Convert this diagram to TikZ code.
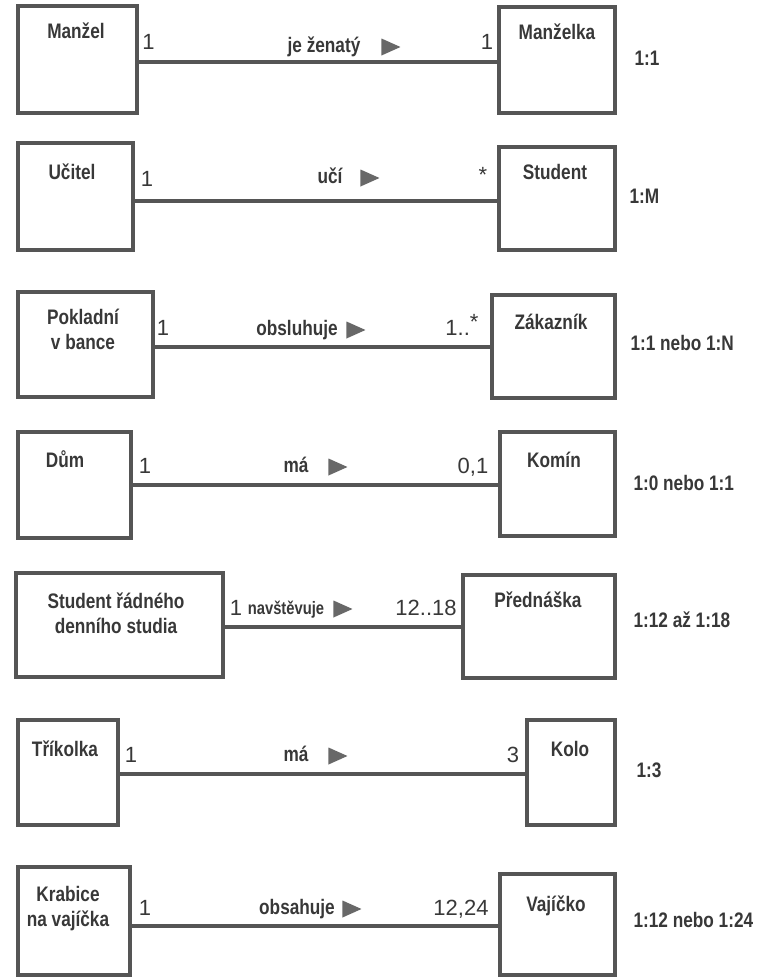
\documentclass[tikz,border=0pt]{standalone}
\usepackage{fontspec}
\setmainfont{Liberation Sans}
\newfontfamily\narrowsf[FakeStretch=0.82]{Liberation Sans}
\usetikzlibrary{positioning,shapes.geometric}

\definecolor{ink}{HTML}{383838}
\definecolor{rim}{HTML}{555555}
\definecolor{flag}{HTML}{686868}

\tikzset{
  klass/.style={draw=rim, line width=3.6pt, inner sep=0pt},
  kname/.style={font=\narrowsf\bfseries\fontsize{21}{25}\selectfont, text=ink, align=center},
  assoc/.style={draw=rim, line width=3.6pt},
  verb/.style={font=\narrowsf\bfseries\fontsize{21}{25}\selectfont, text=ink, anchor=base},
  mult/.style={font=\fontsize{22}{26}\selectfont, text=ink, anchor=base},
  ratio/.style={font=\narrowsf\bfseries\fontsize{21}{25}\selectfont, text=ink, anchor=base west},
  dir/.style={isosceles triangle, isosceles triangle apex angle=60, isosceles triangle stretches,
    fill=flag, inner sep=0pt, minimum width=17pt, minimum height=19pt}
}

\begin{document}
\begin{tikzpicture}[x=1pt, y=-1pt]
      %\draw[help lines] (0,0) grid[step=50] (761,977);
      \useasboundingbox (0,0) rectangle (761,977);

      \node[klass, minimum width=119pt, minimum height=107pt] (manzel) at (77.5,59.5) {};
      \node[klass, minimum width=116pt, minimum height=106pt] (manzelka) at (557,60) {};
      \node[kname, anchor=base] (manzelT) at (76,38) {Manžel};
      \node[kname, anchor=base] (manzelkaT) at (557,39) {Manželka};
      \coordinate (r1) at (0,62);
      \draw[assoc] (manzel.east |- r1) -- (manzelka.west |- r1);
      \node[mult] (m1a) at (148.5,49) {1};
      \node[mult] (m1b) at (487,49) {1};
      \node[verb] (v1) at (324,52) {je ženatý};
      \node[dir] (d1) at (387,47) {};
      \node[ratio] (p1) at (631,65) {1:1};

      \node[klass, minimum width=115pt, minimum height=107pt] (ucitel) at (75.5,196.5) {};
      \node[klass, minimum width=116pt, minimum height=103pt] (student) at (557,198.5) {};
      \node[kname, anchor=base] (ucitelT) at (72,179.5) {Učitel};
      \node[kname, anchor=base] (studentT) at (555,179.5) {Student};
      \coordinate (r2) at (0,201);
      \draw[assoc] (ucitel.east |- r2) -- (student.west |- r2);
      \node[mult] (m2a) at (147,186) {1};
      \node[mult] (m2b) at (483,182.5) {*};
      \node[verb] (v2) at (330,183) {učí};
      \node[dir] (d2) at (366,178) {};
      \node[ratio] (p2) at (626,203) {1:M};

      \node[klass, minimum width=135pt, minimum height=105pt] (pokladni) at (85.5,344.5) {};
      \node[klass, minimum width=123pt, minimum height=103pt] (zakaznik) at (553.5,346.5) {};
      \node[kname] (pokladniT) at (83,329) {Pokladní\\v bance};
      \node[kname, anchor=base] (zakaznikT) at (551,329.5) {Zákazník};
      \coordinate (r3) at (0,347);
      \draw[assoc] (pokladni.east |- r3) -- (zakaznik.west |- r3);
      \node[mult] (m3a) at (163,335) {1};
      \node[mult] (m3b) at (462,335) {1..\raisebox{6pt}{*}};
      \node[verb] (v3) at (297,335) {obsluhuje};
      \node[dir] (d3) at (352,330) {};
      \node[ratio] (p3) at (627,350) {1:1 nebo 1:N};

      \node[klass, minimum width=113pt, minimum height=106pt] (dum) at (74.5,485) {};
      \node[klass, minimum width=115pt, minimum height=104pt] (komin) at (557.5,484) {};
      \node[kname, anchor=base] (dumT) at (65,467.5) {Dům};
      \node[kname, anchor=base] (kominT) at (554,467.5) {Komín};
      \coordinate (r4) at (0,485);
      \draw[assoc] (dum.east |- r4) -- (komin.west |- r4);
      \node[mult] (m4a) at (145,473) {1};
      \node[mult] (m4b) at (473,473) {0,1};
      \node[verb] (v4) at (296,472) {má};
      \node[dir] (d4) at (334,467) {};
      \node[ratio] (p4) at (630,490) {1:0 nebo 1:1};

      \node[klass, minimum width=207pt, minimum height=104pt] (radny) at (119.5,625) {};
      \node[klass, minimum width=152pt, minimum height=103pt] (prednaska) at (539,626.5) {};
      \node[kname] (radnyT) at (116,613) {Student řádného\\denního studia};
      \node[kname, anchor=base] (prednaskaT) at (538,607) {Přednáška};
      \coordinate (r5) at (0,627);
      \draw[assoc] (radny.east |- r5) -- (prednaska.west |- r5);
      \node[mult] (m5a) at (236,615) {1};
      \node[mult] (m5b) at (426,615) {12..18};
      \node[verb, font=\narrowsf\bfseries\fontsize{18}{22}\selectfont] (v5) at (286,614) {navštěvuje};
      \node[dir] (d5) at (339,609) {};
      \node[ratio] (p5) at (630,627) {1:12 až 1:18};

      \node[klass, minimum width=100pt, minimum height=105pt] (trikolka) at (68,772.5) {};
      \node[klass, minimum width=88pt, minimum height=105pt] (kolo) at (571,772.5) {};
      \node[kname, anchor=base] (trikolkaT) at (65,756) {Tříkolka};
      \node[kname, anchor=base] (koloT) at (570,756) {Kolo};
      \coordinate (r6) at (0,774);
      \draw[assoc] (trikolka.east |- r6) -- (kolo.west |- r6);
      \node[mult] (m6a) at (131,762) {1};
      \node[mult] (m6b) at (513,762) {3};
      \node[verb] (v6) at (296,761) {má};
      \node[dir] (d6) at (334,756) {};
      \node[ratio] (p6) at (633,777) {1:3};

      \node[klass, minimum width=112pt, minimum height=108pt] (krabice) at (74,921) {};
      \node[klass, minimum width=115pt, minimum height=101pt] (vajicko) at (557.5,924.5) {};
      \node[kname] (krabiceT) at (68,909) {Krabice\\na vajíčka};
      \node[kname, anchor=base] (vajickoT) at (556,911) {Vajíčko};
      \coordinate (r7) at (0,926);
      \draw[assoc] (krabice.east |- r7) -- (vajicko.west |- r7);
      \node[mult] (m7a) at (145,915) {1};
      \node[mult] (m7b) at (461,915) {12,24};
      \node[verb] (v7) at (297,914) {obsahuje};
      \node[dir] (d7) at (348,909) {};
      \node[ratio] (p7) at (630,927) {1:12 nebo 1:24};
\end{tikzpicture}
\end{document}
